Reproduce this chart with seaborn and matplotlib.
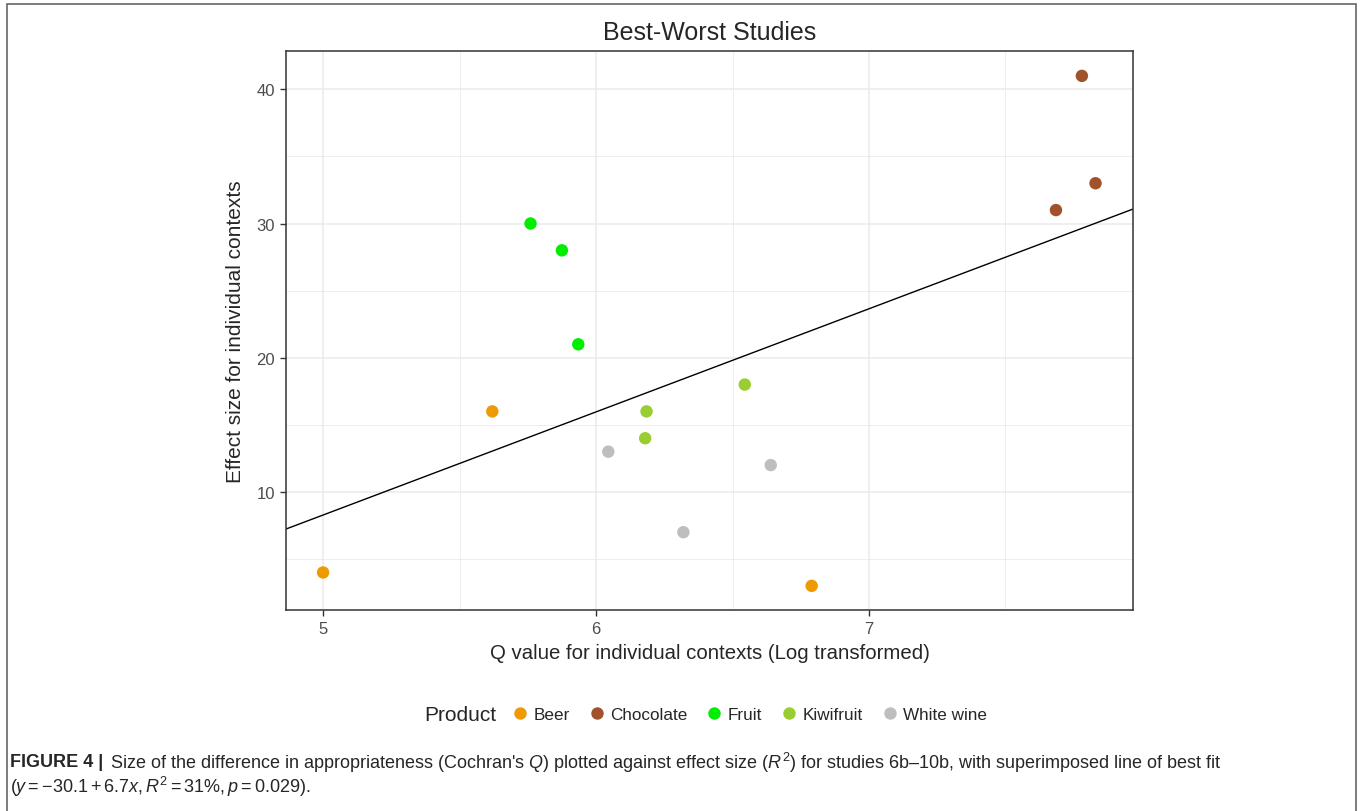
import matplotlib
matplotlib.use("Agg")
import matplotlib.pyplot as plt
from matplotlib.patches import Rectangle
import numpy as np
import pandas as pd
import seaborn as sns

# values
products = ["Beer", "Chocolate", "Fruit", "Kiwifruit", "White wine"]
product_colors = ["#EE9A00", "#A0522D", "#00EE00", "#9ACD32", "#BEBEBE"]

beer_q = [5.00, 5.62, 6.79]
beer_effect = [4, 16, 3]
chocolate_q = [7.78, 7.685, 7.83]
chocolate_effect = [41, 31, 33]
fruit_q = [5.76, 5.875, 5.935]
fruit_effect = [30, 28, 21]
kiwifruit_q = [6.545, 6.185, 6.18]
kiwifruit_effect = [18, 16, 14]
white_wine_q = [6.045, 6.32, 6.64]
white_wine_effect = [13, 7, 12]

x_ticks = [5, 6, 7]
y_ticks = [10, 20, 30, 40]

title = "Best-Worst Studies"
x_label = "Q value for individual contexts (Log transformed)"
y_label = "Effect size for individual contexts"
legend_title = "Product"
caption_head = "FIGURE 4 |"
caption_line1 = ("Size of the difference in appropriateness (Cochran's $Q$) plotted against "
                 "effect size ($R^2$) for studies 6b\u201310b, with superimposed line of best fit")
caption_line2 = r"($y = -30.1 + 6.7x, R^2 = 31\%, p = 0.029$)."

df = pd.concat(
    [
        pd.DataFrame({"q": q, "effect": e, "Product": name})
        for name, q, e in [
            ("Beer", beer_q, beer_effect),
            ("Chocolate", chocolate_q, chocolate_effect),
            ("Fruit", fruit_q, fruit_effect),
            ("Kiwifruit", kiwifruit_q, kiwifruit_effect),
            ("White wine", white_wine_q, white_wine_effect),
        ]
    ],
    ignore_index=True,
)

sns.set_theme(style="white")
plt.rcParams["font.family"] = ["Liberation Sans", "DejaVu Sans"]
plt.rcParams["mathtext.fontset"] = "custom"
plt.rcParams["mathtext.rm"] = "Liberation Sans"
plt.rcParams["mathtext.it"] = "Liberation Sans:italic"

fig = plt.figure(figsize=(13.63, 8.12), dpi=100)
ax = fig.add_axes([0.2098, 0.2475, 0.6214, 0.6884])

xlim = (4.864, 7.967)
ylim = (1.2, 42.85)
ax.set_xlim(xlim)
ax.set_ylim(ylim)

# ggplot-ish grid: major + minor
ax.set_xticks(x_ticks)
ax.set_yticks(y_ticks)
ax.set_xticks([5.5, 6.5, 7.5], minor=True)
ax.set_yticks([5, 15, 25, 35], minor=True)
ax.grid(True, which="major", color="#EBEBEB", lw=1.1, zorder=0)
ax.grid(True, which="minor", color="#EBEBEB", lw=0.6, zorder=0)
ax.set_axisbelow(True)

# line of best fit across the full panel
sns.regplot(
    data=df, x="q", y="effect", scatter=False, ci=None, truncate=False,
    color="black", line_kws={"lw": 1.0}, ax=ax,
)
sns.scatterplot(
    data=df, x="q", y="effect", hue="Product", hue_order=products,
    palette=product_colors, s=80, linewidth=0, ax=ax, zorder=3,
)
ax.set_xlim(xlim)
ax.set_ylim(ylim)

for side in ax.spines.values():
    side.set_color("#333333")
    side.set_linewidth(1.1)

ax.tick_params(axis="both", which="major", direction="out", length=4, width=1,
               color="#333333", labelsize=12, labelcolor="#4D4D4D", pad=4,
               bottom=True, left=True)
ax.tick_params(axis="both", which="minor", length=0)

ax.set_title(title, fontsize=18, pad=9)
ax.set_xlabel(x_label, fontsize=14.7, labelpad=5)
ax.set_ylabel(y_label, fontsize=15, labelpad=8)

sns.move_legend(
    ax, "center left", bbox_to_anchor=(0.3614, 0.1185),
    bbox_transform=fig.transFigure, ncol=5, title=None, frameon=False,
    fontsize=12.3, handletextpad=0.1, columnspacing=0.86, handlelength=1.4,
    markerscale=1.0,
)
fig.text(0.311, 0.1185, legend_title, fontsize=15, va="center", ha="left")

# outer frame of the figure panel
fig.patches.append(Rectangle((0.0051, -0.02), 0.9898, 1.0138, transform=fig.transFigure,
                             fill=False, edgecolor="#666666", lw=1.2))

cap_size = 13
t1 = fig.text(0.0073, 0.061, caption_head, fontsize=cap_size, fontweight="bold",
              va="center", ha="left")
ax.annotate(
    caption_line1, xy=(1, 0.5), xycoords=t1, xytext=(5, 0),
    textcoords="offset points", fontsize=cap_size, va="center", ha="left",
    annotation_clip=False,
)
fig.text(0.0073, 0.031, caption_line2, fontsize=cap_size, va="center", ha="left")

fig.savefig("out.png", dpi=100)
